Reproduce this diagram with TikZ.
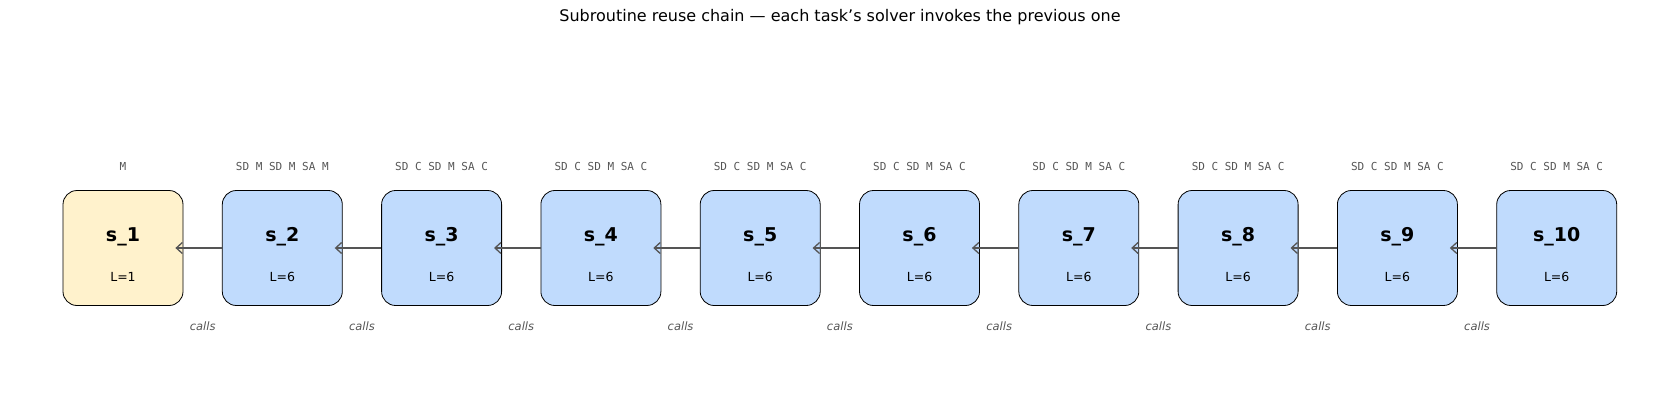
\documentclass[tikz,border=0pt]{standalone}
\usepackage{fontspec}
\setmainfont{DejaVu Sans}
\newfontfamily\monof{DejaVu Sans Mono}
\usetikzlibrary{arrows.meta}
\definecolor{yel}{HTML}{FFF2CC}
\definecolor{blu}{HTML}{C0DBFD}
\definecolor{grayt}{HTML}{555555}
\begin{document}
\begin{tikzpicture}[x=1pt,y=-1pt,
  box/.style={draw=black,line width=0.8pt,rounded corners=14pt,minimum width=120pt,minimum height=115pt,inner sep=0pt},
  ops/.style={font=\monof\fontsize{11}{13}\selectfont,text=grayt},
  calls/.style={font=\itshape\fontsize{11.5}{13}\selectfont,text=grayt},
  arr/.style={-{Straight Barb[length=6pt,width=11pt]},draw=grayt,line width=1.3pt}]
\useasboundingbox (0,0) rectangle (1680,420);
\node[font=\fontsize{16}{19}\selectfont] (title) at (840,17) {Subroutine reuse chain — each task's solver invokes the previous one};
\foreach \i/\lab in {1/M,2/SD M SD M SA M,3/SD C SD M SA C,4/SD C SD M SA C,5/SD C SD M SA C,6/SD C SD M SA C,7/SD C SD M SA C,8/SD C SD M SA C,9/SD C SD M SA C,10/SD C SD M SA C}{
  \pgfmathsetmacro{\cx}{123+(\i-1)*159.3}
  \ifnum\i=1 \def\fc{yel}\def\L{1}\else\def\fc{blu}\def\L{6}\fi
  \node[box,fill=\fc] (s\i) at (\cx,248) {};
  \node[font=\bfseries\fontsize{19}{22}\selectfont] (n\i) at (\cx,237) {s\_\i};
  \node[font=\fontsize{12.5}{15}\selectfont] (l\i) at (\cx,277) {L=\L};
  \node[ops] (o\i) at (\cx,166) {\lab};
}
\foreach \i [evaluate=\i as \j using int(\i-1)] in {2,...,10}{
  \coordinate (t\i) at ([xshift=-8pt]s\j.east);
  \draw[arr] (s\i.west) -- (t\i);
  \path (s\j.east) -- (s\i.west) node[calls,pos=0.5,yshift=-78pt] (c\i) {calls};
}
\end{tikzpicture}
\end{document}
